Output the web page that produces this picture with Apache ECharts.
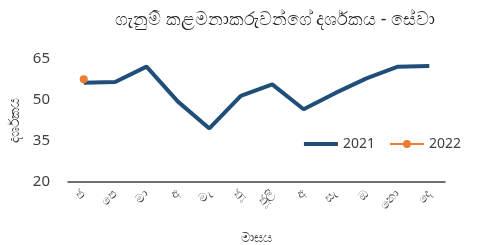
<!DOCTYPE html>
<html><head><meta charset="utf-8">
<script src="https://cdn.jsdelivr.net/npm/echarts@6/dist/echarts.min.js"></script>
<style>html,body{margin:0;padding:0;background:#fff}#c{width:482px;height:245px}</style>
</head><body><div id="c"></div>
<script>
const months = ['ජ','පෙ','මා','අ','මැ','ජූ','ජූලි','අ','සැ','ඔ','නො','දෙ'];
const s2021 = [56.3,56.6,62.2,49.4,39.6,51.5,55.7,46.6,52.5,57.9,62.2,62.4];
const s2022 = [57.6];
const yTicks = [20,35,50,65];
const chart = echarts.init(document.getElementById('c'));
chart.setOption({
  animation:false,
  title:{text:'ගැනුම් කළමනාකරුවන්ගේ දර්ශකය - සේවා',left:270,top:6,textAlign:'center',
    textStyle:{fontSize:17.5,fontWeight:'normal',color:'#262626',fontFamily:'Noto Sans'}},
  legend:{right:16,top:132,itemGap:14,itemWidth:34,itemHeight:10,
    textStyle:{fontSize:14,color:'#404040',fontFamily:'Noto Sans'},
    data:[{name:'2021',icon:'path://M0,0L34,0L34,4L0,4Z'},'2022']},
  grid:{left:68,right:37,top:59,bottom:63,outerBoundsMode:'none',containLabel:false},
  xAxis:{type:'category',data:months,name:'මාසය',nameLocation:'middle',nameGap:50,
    nameTextStyle:{fontSize:13,color:'#404040',fontFamily:'Noto Sans'},
    axisLine:{lineStyle:{color:'#404040',width:1.5}},axisTick:{show:false},
    axisLabel:{rotate:45,fontSize:12,color:'#404040',interval:0,fontFamily:'Noto Sans',margin:10}},
  yAxis:{type:'value',min:yTicks[0],max:yTicks[yTicks.length-1],interval:15,
    name:'දර්ශකය',nameLocation:'middle',nameGap:42,
    nameTextStyle:{fontSize:14,color:'#404040',fontFamily:'Noto Sans'},
    splitLine:{show:false},axisLine:{show:false},axisTick:{show:false},
    axisLabel:{fontSize:15,color:'#404040',fontFamily:'Noto Sans',margin:18}},
  series:[
    {name:'2021',type:'line',data:s2021,symbol:'none',lineStyle:{width:4,color:'#1F4E79'},itemStyle:{color:'#1F4E79'}},
    {name:'2022',type:'line',data:s2022,symbol:'circle',symbolSize:8,lineStyle:{width:2.5,color:'#ED7D31'},itemStyle:{color:'#ED7D31'}}
  ]
});
</script></body></html>
